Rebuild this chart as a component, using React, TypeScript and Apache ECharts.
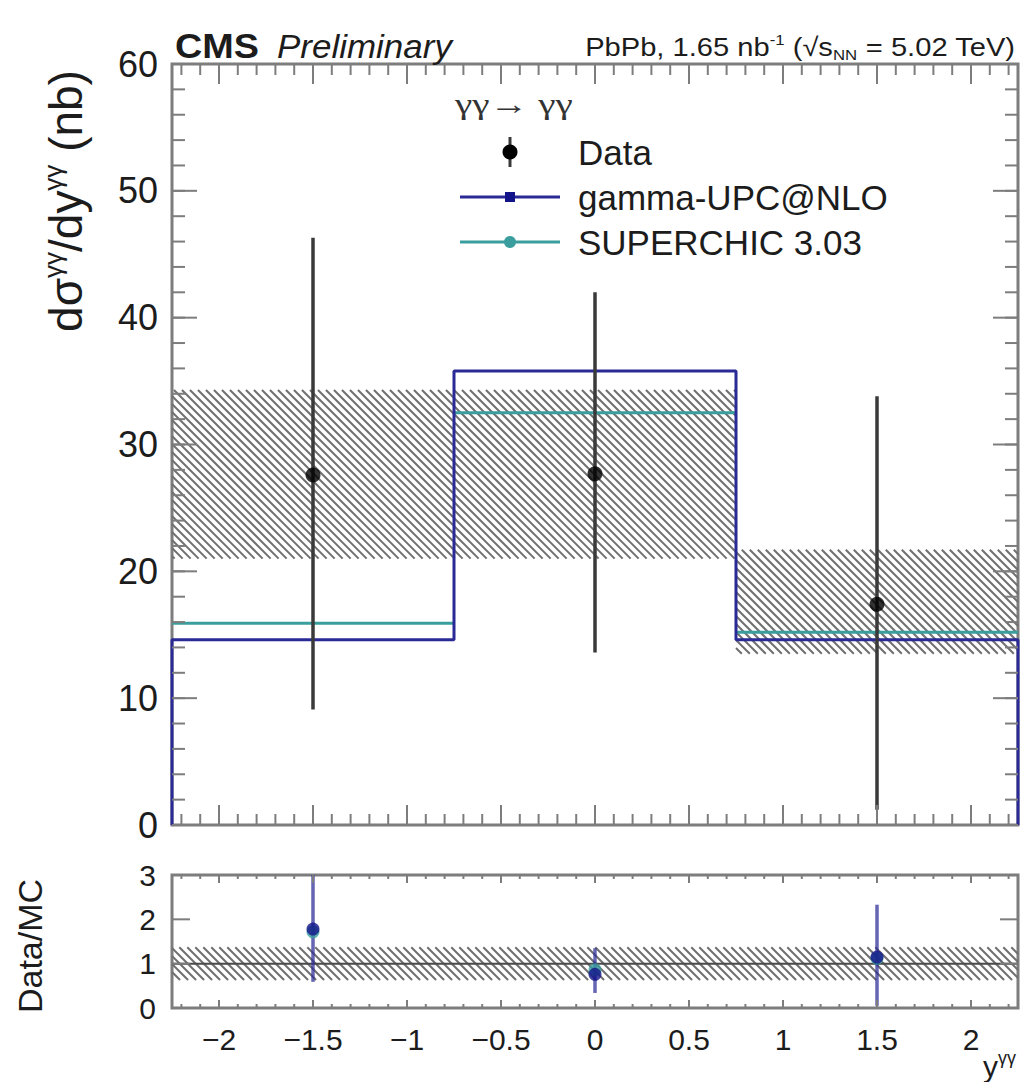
import React, { useEffect, useRef } from "react";
import * as echarts from "echarts";

// Rapidity bins of the diphoton system
const binEdges = [-2.25, -0.75, 0.75, 2.25];
const binCenters = [-1.5, 0, 1.5];

// Measured cross section (nb) with total uncertainty range
const dataValues = [27.6, 27.7, 17.4];
const dataErrLow = [9.1, 13.6, 1.2];
const dataErrHigh = [46.3, 42.0, 33.8];

// Systematic uncertainty band
const bandLow = [21.0, 21.0, 13.5];
const bandHigh = [34.3, 34.3, 21.7];

// Theory predictions (nb)
const gammaUpc = [14.6, 35.8, 14.6];
const superchic = [15.9, 32.5, 15.2];

// Data / MC ratios
const ratioUpc = [1.78, 0.76, 1.15];
const ratioUpcLow = [0.59, 0.34, 0.05];
const ratioUpcHigh = [3.4, 1.35, 2.33];
const ratioSc = [1.72, 0.86, 1.12];
const ratioBandLow = [0.63];
const ratioBandHigh = [1.37];
const ratioRef = [1];

// Axis ranges and tick values
const xRange = [-2.25, 2.25];
const xTickLabels = [-2, -1.5, -1, -0.5, 0, 0.5, 1, 1.5, 2];
const mainYRange = [0, 60];
const mainYMajor = [0, 10, 20, 30, 40, 50, 60];
const ratioYRange = [0, 3];
const ratioYMajor = [0, 1, 2, 3];

const FRAME = "#7d7d7d";
const TEXT = "#1c1c1c";
const NAVY = "#2a2a96";
const NAVY_BAR = "rgba(42,42,150,0.72)";
const TEAL = "#3a9e9e";
const HATCH = "#707070";
const FONT = "Liberation Sans, Arial, Helvetica, sans-serif";

// minor tick positions: every 0.1 in x, every 2 in main y
const xMinor: number[] = [];
for (let i = -22; i <= 22; i++) xMinor.push(i / 10);
const mainYMinor: number[] = [];
for (let v = 0; v <= 60; v += 2) mainYMinor.push(v);

const fmtMinus = (v: number) => String(v).replace("-", "\u2212");

// diagonal hatch clipped to a rectangle [xlo, xhi, ylo, yhi]
function renderHatch(params: any, api: any) {
  const cs = params.coordSys;
  const p0 = api.coord([api.value(0), api.value(3)]);
  const p1 = api.coord([api.value(1), api.value(2)]);
  const x0 = Math.max(p0[0], cs.x);
  const x1 = Math.min(p1[0], cs.x + cs.width);
  const y0 = Math.max(p0[1], cs.y);
  const y1 = Math.min(p1[1], cs.y + cs.height);
  const step = 8;
  const children: any[] = [];
  const cStart = Math.floor((x0 - y1) / step) * step;
  for (let c = cStart; c <= x1 - y0; c += step) {
    const ys = Math.max(y0, x0 - c);
    const ye = Math.min(y1, x1 - c);
    if (ye > ys) {
      children.push({
        type: "line",
        shape: { x1: ys + c, y1: ys, x2: ye + c, y2: ye },
        style: { stroke: HATCH, lineWidth: 2 },
      });
    }
  }
  return { type: "group", children };
}

// vertical error bar [x, lo, hi]
function errorBar(color: string, width: number) {
  return (params: any, api: any) => {
    const cs = params.coordSys;
    const a = api.coord([api.value(0), api.value(1)]);
    const b = api.coord([api.value(0), api.value(2)]);
    const yTop = Math.max(b[1], cs.y);
    const yBot = Math.min(a[1], cs.y + cs.height);
    return {
      type: "line",
      shape: { x1: a[0], y1: yBot, x2: a[0], y2: yTop },
      style: { stroke: color, lineWidth: width },
    };
  };
}

// horizontal segment [xlo, xhi, y]
function renderSegment(color: string) {
  return (params: any, api: any) => {
    const a = api.coord([api.value(0), api.value(2)]);
    const b = api.coord([api.value(1), api.value(2)]);
    return {
      type: "line",
      shape: { x1: a[0], y1: a[1], x2: b[0], y2: b[1] },
      style: { stroke: color, lineWidth: 3 },
    };
  };
}

// inward ticks on all four sides of a frame
function makeTicks(o: {
  xMajor: number[]; xMinor: number[]; xMajorLen: number; xMinorLen: number;
  yMajor: number[]; yMinor: number[]; yMajorLen: number; yMinorLen: number;
  yRef: number;
}) {
  return (params: any, api: any) => {
    const cs = params.coordSys;
    const left = cs.x, right = cs.x + cs.width, top = cs.y, bottom = cs.y + cs.height;
    const children: any[] = [];
    const seg = (x1: number, y1: number, x2: number, y2: number) =>
      children.push({ type: "line", shape: { x1, y1, x2, y2 }, style: { stroke: FRAME, lineWidth: 2 } });
    const xTick = (v: number, len: number) => {
      const px = api.coord([v, o.yRef])[0];
      seg(px, bottom, px, bottom - len);
      seg(px, top, px, top + len);
    };
    const yTick = (v: number, len: number) => {
      const py = api.coord([xRange[0], v])[1];
      seg(left, py, left + len, py);
      seg(right, py, right - len, py);
    };
    o.xMinor.forEach((v) => xTick(v, o.xMinorLen));
    o.xMajor.forEach((v) => xTick(v, o.xMajorLen));
    o.yMinor.forEach((v) => yTick(v, o.yMinorLen));
    o.yMajor.forEach((v) => yTick(v, o.yMajorLen));
    return { type: "group", children };
  };
}

function stepPoints(vals: number[]) {
  const pts: number[][] = [[binEdges[0], 0]];
  vals.forEach((v, i) => {
    pts.push([binEdges[i], v]);
    pts.push([binEdges[i + 1], v]);
  });
  pts.push([binEdges[binEdges.length - 1], 0]);
  return pts;
}

export default function App() {
  const ref = useRef<HTMLDivElement>(null);

  useEffect(() => {
    if (!ref.current) return;
    const chart = echarts.init(ref.current, undefined, { renderer: "svg" });

    const bandData = binCenters.map((_, i) => [binEdges[i], binEdges[i + 1], bandLow[i], bandHigh[i]]);
    const ratioBandData = ratioBandLow.map((lo, i) => [xRange[0], xRange[1], lo, ratioBandHigh[i]]);

    const option: any = {
      animation: false,
      backgroundColor: "#ffffff",
      grid: [
        { left: 172, top: 64, width: 846, height: 761, show: true, borderColor: FRAME, borderWidth: 3, backgroundColor: "transparent" },
        { left: 172, top: 875, width: 846, height: 133, show: true, borderColor: FRAME, borderWidth: 3, backgroundColor: "transparent" },
      ],
      xAxis: [
        {
          gridIndex: 0, type: "value", min: xRange[0], max: xRange[1],
          axisLine: { show: false }, axisTick: { show: false }, axisLabel: { show: false }, splitLine: { show: false },
        },
        {
          gridIndex: 1, type: "value", min: xRange[0], max: xRange[1],
          axisLine: { show: false }, axisTick: { show: false }, splitLine: { show: false },
          axisLabel: {
            customValues: xTickLabels, formatter: (v: number) => fmtMinus(v),
            fontSize: 30, color: TEXT, fontFamily: FONT, margin: 16,
          },
        },
      ],
      yAxis: [
        {
          gridIndex: 0, type: "value", min: mainYRange[0], max: mainYRange[1], interval: 10,
          axisLine: { show: false }, axisTick: { show: false }, splitLine: { show: false },
          axisLabel: { fontSize: 36, color: TEXT, fontFamily: FONT, margin: 14 },
        },
        {
          gridIndex: 1, type: "value", min: ratioYRange[0], max: ratioYRange[1], interval: 1,
          axisLine: { show: false }, axisTick: { show: false }, splitLine: { show: false },
          axisLabel: { fontSize: 30, color: TEXT, fontFamily: FONT, margin: 16 },
        },
      ],
      series: [
        // main panel
        {
          type: "custom", xAxisIndex: 0, yAxisIndex: 0, z: 1, silent: true,
          renderItem: renderHatch, data: bandData, encode: { x: [0, 1], y: [2, 3] },
        },
        {
          type: "line", name: "gamma-UPC@NLO", xAxisIndex: 0, yAxisIndex: 0, z: 3,
          data: stepPoints(gammaUpc), symbol: "none", lineStyle: { color: NAVY, width: 3 },
        },
        {
          type: "custom", name: "SUPERCHIC 3.03", xAxisIndex: 0, yAxisIndex: 0, z: 3,
          renderItem: renderSegment(TEAL),
          data: superchic.map((v, i) => [binEdges[i], binEdges[i + 1], v]),
          encode: { x: [0, 1], y: 2 },
        },
        {
          type: "custom", xAxisIndex: 0, yAxisIndex: 0, z: 4,
          renderItem: errorBar("#3a3a3a", 3.5),
          data: binCenters.map((x, i) => [x, dataErrLow[i], dataErrHigh[i]]),
          encode: { x: 0, y: [1, 2] },
        },
        {
          type: "scatter", name: "Data", xAxisIndex: 0, yAxisIndex: 0, z: 5,
          symbol: "circle", symbolSize: 15, itemStyle: { color: "#000000" },
          data: binCenters.map((x, i) => [x, dataValues[i]]),
        },
        {
          type: "custom", xAxisIndex: 0, yAxisIndex: 0, z: 6, silent: true,
          renderItem: makeTicks({
            xMajor: xTickLabels, xMinor, xMajorLen: 20, xMinorLen: 11,
            yMajor: mainYMajor, yMinor: mainYMinor, yMajorLen: 25, yMinorLen: 13,
            yRef: mainYRange[0],
          }),
          data: [[0, 0]],
        },
        // ratio panel
        {
          type: "custom", xAxisIndex: 1, yAxisIndex: 1, z: 1, silent: true,
          renderItem: renderHatch, data: ratioBandData, encode: { x: [0, 1], y: [2, 3] },
        },
        {
          type: "line", xAxisIndex: 1, yAxisIndex: 1, z: 2,
          data: [[xRange[0], ratioRef[0]], [xRange[1], ratioRef[0]]],
          symbol: "none", lineStyle: { color: "#4a4a4a", width: 2 },
        },
        {
          type: "custom", xAxisIndex: 1, yAxisIndex: 1, z: 3,
          renderItem: errorBar(NAVY_BAR, 3.5),
          data: binCenters.map((x, i) => [x, ratioUpcLow[i], ratioUpcHigh[i]]),
          encode: { x: 0, y: [1, 2] },
        },
        {
          type: "scatter", xAxisIndex: 1, yAxisIndex: 1, z: 4,
          symbol: "circle", symbolSize: 13, itemStyle: { color: TEAL },
          data: binCenters.map((x, i) => [x, ratioSc[i]]),
        },
        {
          type: "scatter", xAxisIndex: 1, yAxisIndex: 1, z: 5,
          symbol: "circle", symbolSize: 13, itemStyle: { color: "#14148a" },
          data: binCenters.map((x, i) => [x, ratioUpc[i]]),
        },
        {
          type: "custom", xAxisIndex: 1, yAxisIndex: 1, z: 6, silent: true,
          renderItem: makeTicks({
            xMajor: xTickLabels, xMinor, xMajorLen: 8, xMinorLen: 4,
            yMajor: ratioYMajor, yMinor: [], yMajorLen: 18, yMinorLen: 0,
            yRef: ratioYRange[0],
          }),
          data: [[0, 0]],
        },
      ],
      graphic: [
        // header
        { type: "text", x: 175, y: 46, scaleX: 1.08, style: { text: "CMS", font: `bold 35px ${FONT}`, fill: TEXT, verticalAlign: "middle" } },
        { type: "text", x: 277, y: 46, scaleX: 1.06, style: { text: "Preliminary", font: `italic 33px ${FONT}`, fill: TEXT, verticalAlign: "middle" } },
        {
          type: "text", x: 1015, y: 47, scaleX: 1.12,
          style: {
            text: "{a|PbPb, 1.65 nb}{s|-1}{a| (\u221As}{b|NN}{a| = 5.02 TeV)}",
            align: "right", verticalAlign: "middle", fill: TEXT,
            rich: {
              a: { fontSize: 26, fontFamily: FONT, fill: TEXT, lineHeight: 30 },
              s: { fontSize: 15, fontFamily: FONT, fill: TEXT, lineHeight: 15, verticalAlign: "top" },
              b: { fontSize: 15, fontFamily: FONT, fill: TEXT, lineHeight: 15, verticalAlign: "bottom" },
            },
          },
        },
        // y-axis titles
        {
          type: "text", x: 66, y: 201, rotation: Math.PI / 2,
          style: {
            text: "{a|d\u03C3}{s|\u03B3\u03B3}{a|/dy}{s|\u03B3\u03B3}{a| (nb)}",
            align: "center", verticalAlign: "middle", fill: TEXT,
            rich: {
              a: { fontSize: 46, fontFamily: FONT, fill: TEXT, lineHeight: 52 },
              s: { fontSize: 26, fontFamily: FONT, fill: TEXT, lineHeight: 26, verticalAlign: "top" },
            },
          },
        },
        {
          type: "text", x: 30, y: 946, rotation: Math.PI / 2,
          style: { text: "Data/MC", font: `34px ${FONT}`, fill: TEXT, align: "center", verticalAlign: "middle" },
        },
        {
          type: "text", x: 1016, y: 1066,
          style: {
            text: "{a|y}{s|\u03B3\u03B3}", align: "right", verticalAlign: "middle", fill: TEXT,
            rich: {
              a: { fontSize: 30, fontFamily: FONT, fill: TEXT, lineHeight: 34 },
              s: { fontSize: 18, fontFamily: FONT, fill: TEXT, lineHeight: 18, verticalAlign: "top" },
            },
          },
        },
        // legend
        { type: "text", x: 455, y: 104, scaleX: 1.3, style: { text: "\u03B3\u03B3\u2192 \u03B3\u03B3", font: `30px Liberation Serif, serif`, fill: "#333", verticalAlign: "middle" } },
        { type: "line", shape: { x1: 510, y1: 137, x2: 510, y2: 167 }, style: { stroke: "#3a3a3a", lineWidth: 3 } },
        { type: "circle", shape: { cx: 510, cy: 152, r: 7.5 }, style: { fill: "#000" } },
        { type: "text", x: 578, y: 152, style: { text: "Data", font: `35px ${FONT}`, fill: TEXT, verticalAlign: "middle" } },
        { type: "line", shape: { x1: 460, y1: 197, x2: 560, y2: 197 }, style: { stroke: NAVY, lineWidth: 3 } },
        { type: "rect", shape: { x: 505, y: 192, width: 10, height: 10 }, style: { fill: "#14148a" } },
        { type: "text", x: 578, y: 197, style: { text: "gamma-UPC@NLO", font: `35px ${FONT}`, fill: TEXT, verticalAlign: "middle" } },
        { type: "line", shape: { x1: 460, y1: 242, x2: 560, y2: 242 }, style: { stroke: TEAL, lineWidth: 3 } },
        { type: "circle", shape: { cx: 510, cy: 242, r: 6 }, style: { fill: TEAL } },
        { type: "text", x: 578, y: 242, style: { text: "SUPERCHIC 3.03", font: `35px ${FONT}`, fill: TEXT, verticalAlign: "middle" } },
      ],
    };

    chart.setOption(option);
    return () => chart.dispose();
  }, []);

  return (
    <div
      ref={ref}
      style={{ position: "absolute", left: 0, top: 0, width: 1020, height: 1082 }}
    />
  );
}
